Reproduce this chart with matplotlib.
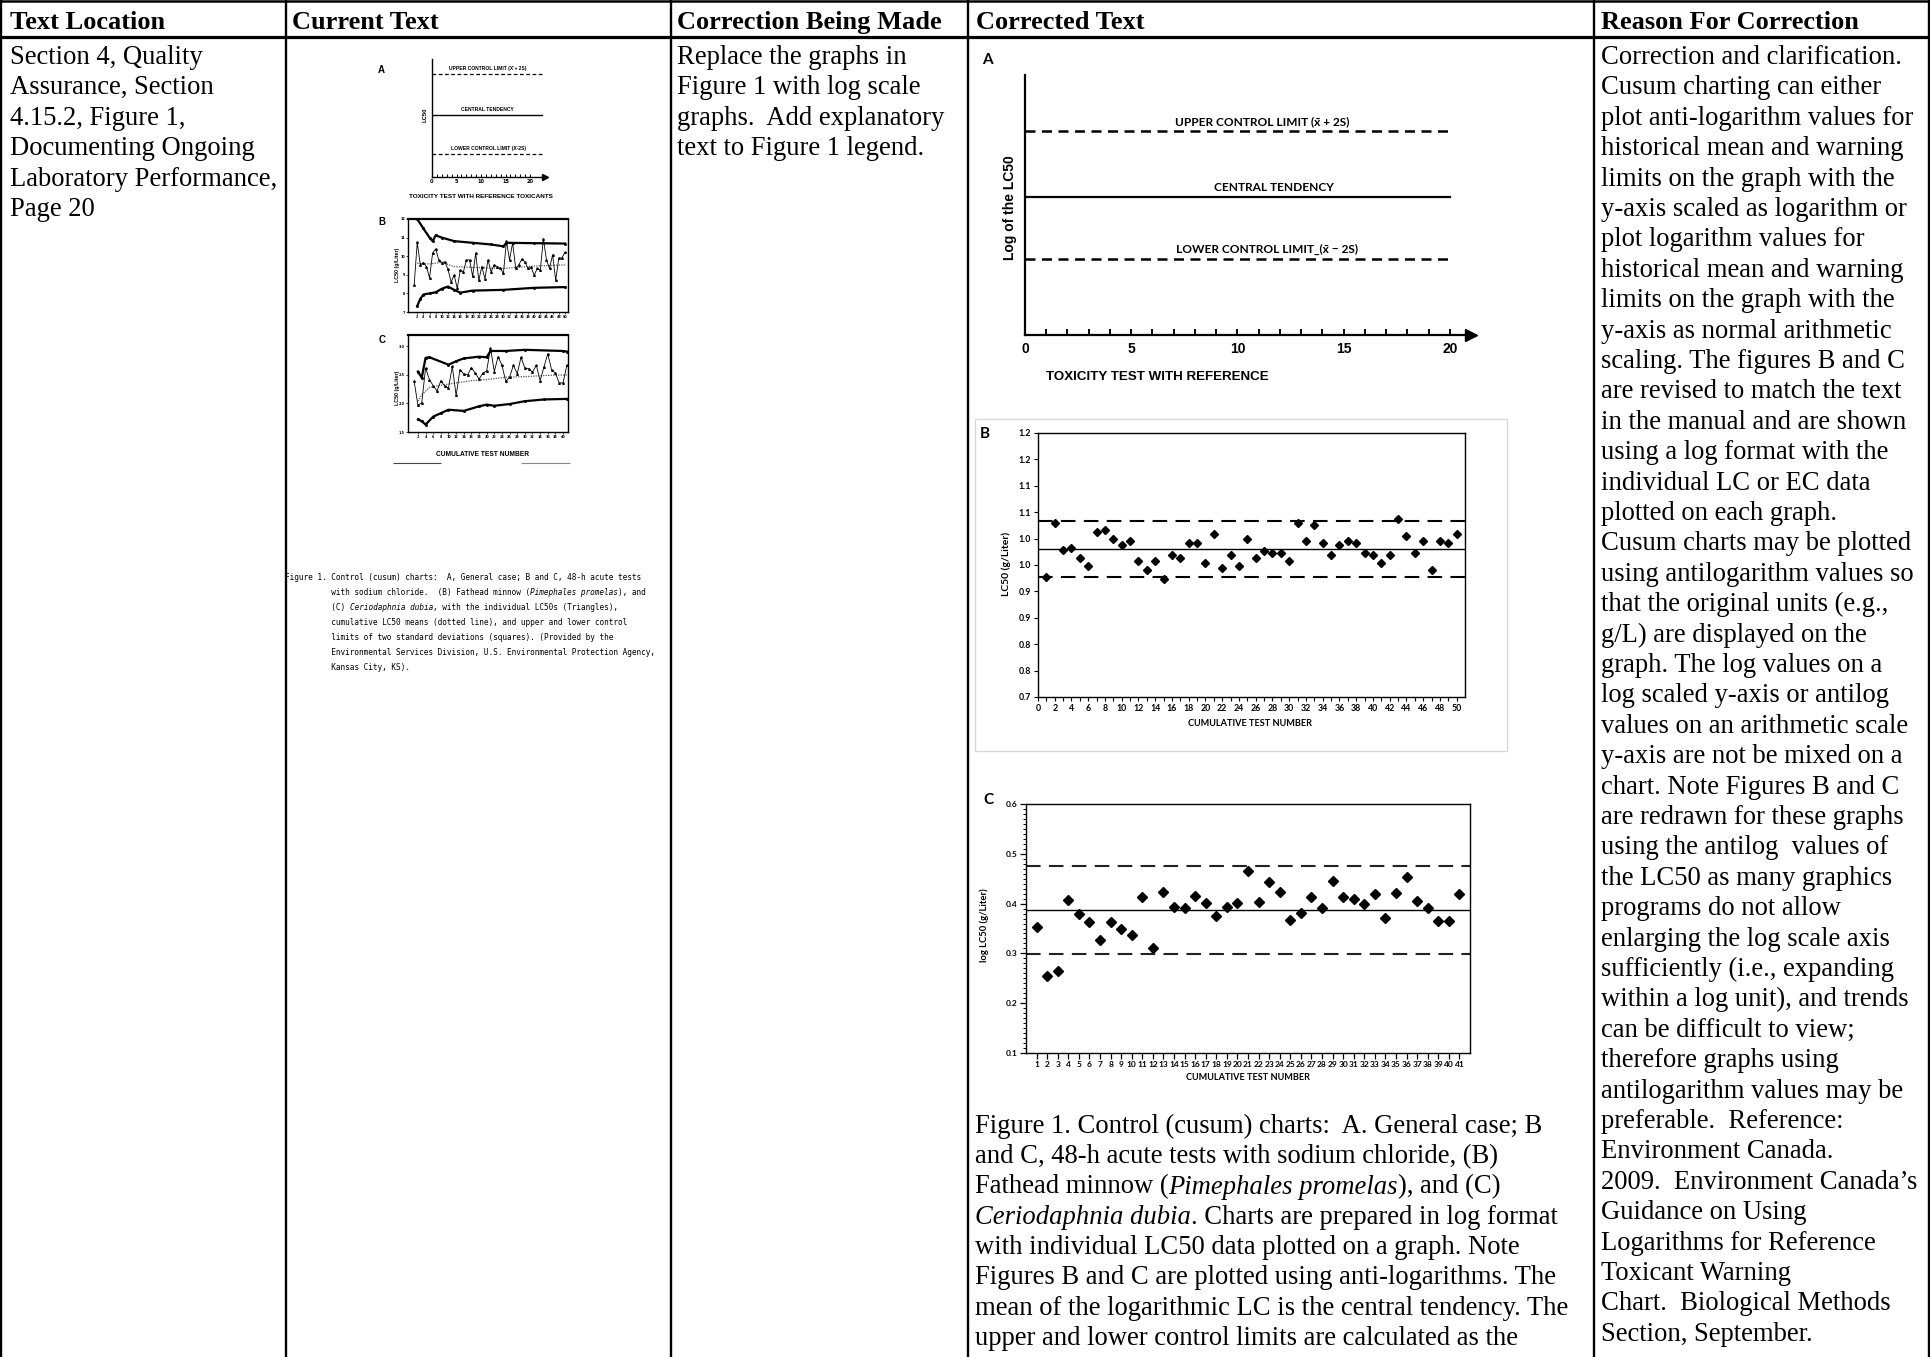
import matplotlib
matplotlib.use("Agg")
import matplotlib.pyplot as plt
import numpy as np
from matplotlib.lines import Line2D
from matplotlib.patches import Rectangle

# ---------------- data ----------------
headers = ["Text Location", "Current Text", "Correction Being Made",
           "Corrected Text", "Reason For Correction"]

location_lines = ["Section 4, Quality", "Assurance, Section", "4.15.2, Figure 1,",
                  "Documenting Ongoing", "Laboratory Performance,", "Page 20"]

correction_lines = ["Replace the graphs in", "Figure 1 with log scale",
                    "graphs.  Add explanatory", "text to Figure 1 legend."]

reason_lines = [
    "Correction and clarification.", "Cusum charting can either",
    "plot anti-logarithm values for", "historical mean and warning",
    "limits on the graph with the", "y-axis scaled as logarithm or",
    "plot logarithm values for", "historical mean and warning",
    "limits on the graph with the", "y-axis as normal arithmetic",
    "scaling. The figures B and C", "are revised to match the text",
    "in the manual and are shown", "using a log format with the",
    "individual LC or EC data", "plotted on each graph.",
    "Cusum charts may be plotted", "using antilogarithm values so",
    "that the original units (e.g.,", "g/L) are displayed on the",
    "graph. The log values on a", "log scaled y-axis or antilog",
    "values on an arithmetic scale", "y-axis are not be mixed on a",
    "chart. Note Figures B and C", "are redrawn for these graphs",
    "using the antilog  values of", "the LC50 as many graphics",
    "programs do not allow", "enlarging the log scale axis",
    "sufficiently (i.e., expanding", "within a log unit), and trends",
    "can be difficult to view;", "therefore graphs using",
    "antilogarithm values may be", "preferable.  Reference:",
    "Environment Canada.", "2009.  Environment Canada\u2019s",
    "Guidance on Using", "Logarithms for Reference", "Toxicant Warning",
    "Chart.  Biological Methods", "Section, September."]

new_caption = [
    [("Figure 1. Control (cusum) charts:  A. General case; B", "normal")],
    [("and C, 48-h acute tests with sodium chloride, (B)", "normal")],
    [("Fathead minnow (", "normal"), ("Pimephales promelas", "italic"), ("), and (C)", "normal")],
    [("Ceriodaphnia dubia", "italic"), (". Charts are prepared in log format", "normal")],
    [("with individual LC50 data plotted on a graph. Note", "normal")],
    [("Figures B and C are plotted using anti-logarithms. The", "normal")],
    [("mean of the logarithmic LC is the central tendency. The", "normal")],
    [("upper and lower control limits are calculated as the", "normal")],
]

old_caption = [
    [("Figure 1. Control (cusum) charts:  A, General case; B and C, 48-h acute tests", "normal")],
    [("          with sodium chloride.  (B) Fathead minnow (", "normal"),
     ("Pimephales promelas", "italic"), ("), and", "normal")],
    [("          (C) ", "normal"), ("Ceriodaphnia dubia", "italic"),
     (", with the individual LC50s (Triangles),", "normal")],
    [("          cumulative LC50 means (dotted line), and upper and lower control", "normal")],
    [("          limits of two standard deviations (squares). (Provided by the", "normal")],
    [("          Environmental Services Division, U.S. Environmental Protection Agency,", "normal")],
    [("          Kansas City, KS).", "normal")],
]

# chart A (schematic levels)
a_levels = {"ucl": 0.785, "ct": 0.531, "lcl": 0.292}
old_a_levels = {"ucl": 0.873, "ct": 0.525, "lcl": 0.195}

# chart B: fathead minnow LC50 (g/L), log-scaled values
b_tests = np.arange(1, 51)
b_lc50 = [0.928, 1.030, 0.978, 0.982, 0.963, 0.949, 1.013, 1.017, 1.000, 0.987,
          0.996, 0.958, 0.940, 0.958, 0.924, 0.968, 0.963, 0.991, 0.991, 0.954,
          1.008, 0.944, 0.968, 0.949, 1.000, 0.963, 0.977, 0.973, 0.973, 0.958,
          1.030, 0.996, 1.026, 0.991, 0.968, 0.987, 0.996, 0.991, 0.973, 0.968,
          0.954, 0.968, 1.038, 1.005, 0.973, 0.996, 0.940, 0.996, 0.991, 1.009]
b_ucl, b_mean, b_lcl = 1.033, 0.980, 0.927
b_yticks = [0.70, 0.75, 0.80, 0.85, 0.90, 0.95, 1.00, 1.05, 1.10, 1.15, 1.20]
b_ylabels = ["0.7", "0.8", "0.8", "0.9", "0.9", "1.0", "1.0", "1.1", "1.1", "1.2", "1.2"]

# chart C: Ceriodaphnia dubia log LC50
c_tests = np.arange(1, 42)
c_lc50 = [0.354, 0.255, 0.264, 0.407, 0.379, 0.363, 0.326, 0.363, 0.348, 0.336,
          0.413, 0.311, 0.423, 0.394, 0.391, 0.415, 0.401, 0.376, 0.394, 0.401,
          0.466, 0.404, 0.444, 0.423, 0.367, 0.381, 0.413, 0.392, 0.446, 0.413,
          0.410, 0.400, 0.419, 0.372, 0.421, 0.453, 0.406, 0.392, 0.365, 0.365,
          0.419]
c_ucl, c_mean, c_lcl = 0.476, 0.387, 0.299

# old scanned charts (current text)
old_b_lc50 = [8.43, 10.75, 9.53, 9.66, 9.44, 8.83, 10.17, 10.39, 9.80, 9.66,
              9.70, 9.29, 8.61, 8.98, 8.28, 9.25, 9.16, 9.80, 9.80, 8.92,
              10.17, 8.70, 9.44, 8.79, 9.80, 9.16, 9.53, 9.44, 9.34, 9.07,
              10.81, 9.80, 10.72, 9.34, 9.53, 9.84, 9.70, 9.34, 9.40, 8.98,
              9.34, 9.25, 10.94, 9.80, 9.34, 10.08, 8.70, 9.90, 9.90, 10.20]
old_b_ucl_x = [2, 4, 6, 7, 8, 10, 14, 20, 26, 30, 31, 40, 50]
old_b_ucl = [12.0, 11.49, 11.0, 10.81, 11.12, 11.0, 10.81, 10.72, 10.63, 10.53, 10.72, 10.70, 10.68]
old_b_lcl_x = [2, 3, 4, 6, 8, 10, 12, 14, 16, 20, 30, 40, 50]
old_b_lcl = [7.33, 7.70, 7.94, 8.00, 8.06, 8.25, 8.37, 8.19, 8.04, 8.15, 8.19, 8.30, 8.34]
old_b_mean_x = [2, 6, 10, 14, 20, 30, 40, 50]
old_b_mean = [9.62, 9.58, 9.67, 9.44, 9.40, 9.34, 9.47, 9.53]

old_c_lc50 = [2.39, 1.97, 2.01, 2.62, 2.42, 2.31, 2.22, 2.40, 2.31, 2.27,
              2.65, 2.14, 2.59, 2.52, 2.50, 2.63, 2.53, 2.43, 2.53, 2.57,
              2.97, 2.56, 2.82, 2.67, 2.39, 2.46, 2.67, 2.52, 2.81, 2.62,
              2.61, 2.55, 2.67, 2.40, 2.64, 2.87, 2.59, 2.53, 2.36, 2.36, 2.67]
old_c_ucl_x = [2, 3, 4, 5, 10, 12, 14, 18, 20, 21, 25, 30, 40, 41]
old_c_ucl = [2.56, 2.45, 2.80, 2.81, 2.68, 2.74, 2.79, 2.82, 2.81, 2.92, 2.92, 2.94, 2.92, 2.91]
old_c_lcl_x = [2, 3, 4, 6, 8, 10, 14, 18, 20, 22, 26, 30, 35, 41]
old_c_lcl = [1.72, 1.69, 1.63, 1.77, 1.83, 1.89, 1.87, 1.95, 1.98, 1.96, 1.99, 2.04, 2.07, 2.08]
old_c_mean_x = [2, 3, 5, 8, 12, 16, 20, 25, 30, 35, 41]
old_c_mean = [2.04, 2.15, 2.28, 2.32, 2.36, 2.40, 2.42, 2.46, 2.47, 2.49, 2.50]

# ---------------- helpers ----------------
W, H = 1931, 1357
fig = plt.figure(figsize=(W / 100, H / 100), dpi=100)
fig.patch.set_facecolor("white")
renderer = fig.canvas.get_renderer()

SERIF = ["Liberation Serif", "DejaVu Serif"]
ARIAL = ["Liberation Sans", "DejaVu Sans"]
CALI = ["Lato", "DejaVu Sans"]
MONO = ["DejaVu Sans Mono"]


def fx(x):
    return x / W


def fy(y):
    return 1 - y / H


def px_axes(l, t, r, b):
    return fig.add_axes([l / W, 1 - b / H, (r - l) / W, (b - t) / H])


def hline(x1, x2, y, lw=1.6, color="black"):
    fig.add_artist(Line2D([fx(x1), fx(x2)], [fy(y), fy(y)], transform=fig.transFigure,
                          color=color, lw=lw, solid_capstyle="butt"))


def vline(x, y1, y2, lw=1.6):
    fig.add_artist(Line2D([fx(x), fx(x)], [fy(y1), fy(y2)], transform=fig.transFigure,
                          color="black", lw=lw, solid_capstyle="butt"))


def text_w(s, **kw):
    def w(txt):
        t = fig.text(0, 0, txt, **kw)
        bb = t.get_window_extent(renderer)
        t.remove()
        return bb.width
    return w("|" + s + "|") - w("||")


def runs(x, y, parts, **kw):
    for s, st in parts:
        fig.text(fx(x), fy(y), s, style=st, va="baseline", ha="left", **kw)
        x += text_w(s, style=st, **kw)


# ---------------- table ----------------
cols = [1, 286, 671, 968, 1594, 1929]
for c in cols:
    vline(c, 0, H, lw=1.7)
hline(0, W, 1, lw=1.8)
hline(0, W, 37, lw=2.3)

head_x = [10, 292, 677, 976, 1601]
for hx, h in zip(head_x, headers):
    fig.text(fx(hx), fy(29), h, family=SERIF, weight="bold", fontsize=19,
             va="baseline", ha="left")

LINE = 30.4
for i, s in enumerate(location_lines):
    fig.text(fx(10), fy(64 + i * LINE), s, family=SERIF, fontsize=19.2, va="baseline")
for i, s in enumerate(correction_lines):
    fig.text(fx(677), fy(64 + i * LINE), s, family=SERIF, fontsize=19.2, va="baseline")
for i, s in enumerate(reason_lines):
    fig.text(fx(1601), fy(64 + i * LINE), s, family=SERIF, fontsize=19.2, va="baseline")
for i, parts in enumerate(new_caption):
    runs(975, 1133 + i * 30.3, parts, family=SERIF, fontsize=19.2)

# ---------------- old (scanned) charts ----------------
oldfont = dict(family=ARIAL, weight="bold")

# old A
ax = px_axes(432, 59, 545, 177)
ax.set_xlim(0, 23.06)
ax.set_ylim(0, 1)
for s in ["top", "right"]:
    ax.spines[s].set_visible(False)
for s in ["left", "bottom"]:
    ax.spines[s].set_linewidth(1.0)
ax.plot(1, 0, ">k", ms=4, transform=ax.transAxes, clip_on=False)
ax.plot([0, 22.4], [old_a_levels["ucl"]] * 2, color="k", lw=0.9, ls=(0, (3, 2)))
ax.plot([0, 22.4], [old_a_levels["ct"]] * 2, color="k", lw=1.0)
ax.plot([0, 22.4], [old_a_levels["lcl"]] * 2, color="k", lw=0.9, ls=(0, (3, 2)))
ax.set_xticks([0, 5, 10, 15, 20])
ax.set_xticks(np.arange(0, 21), minor=True)
ax.tick_params(axis="x", which="both", direction="in", length=2, width=0.7, pad=1.5,
               labelsize=3.6)
ax.set_yticks([])
for lab in ax.get_xticklabels():
    lab.set_fontweight("bold")
ax.annotate("UPPER CONTROL LIMIT (X\u0304 + 2S)", (11.4, old_a_levels["ucl"]), xytext=(0, 2),
            textcoords="offset points", ha="center", va="bottom", fontsize=3.6, **oldfont)
ax.annotate("CENTRAL TENDENCY", (11.2, old_a_levels["ct"]), xytext=(0, 2),
            textcoords="offset points", ha="center", va="bottom", fontsize=3.6, **oldfont)
ax.annotate("LOWER CONTROL LIMIT (X\u0304-2S)", (11.6, old_a_levels["lcl"]), xytext=(0, 2),
            textcoords="offset points", ha="center", va="bottom", fontsize=3.6, **oldfont)
fig.text(fx(381), fy(70), "A", fontsize=7, ha="center", va="center", **oldfont)
fig.text(fx(425), fy(115), "LC50", fontsize=4.2, rotation=90, ha="center", va="center", **oldfont)
fig.text(fx(481), fy(197), "TOXICITY TEST WITH REFERENCE TOXICANTS", fontsize=4.6,
         ha="center", va="center", **oldfont)


def old_panel(box, lc50, ucl_x, ucl, lcl_x, lcl, mean_x, mean, xlim, ylim, xt, yt, ytl):
    ax = px_axes(*box)
    n = len(lc50)
    x = np.arange(1, n + 1)
    ax.plot(ucl_x, ucl, color="k", lw=1.6, marker="s", ms=1.0)
    ax.plot(lcl_x, lcl, color="k", lw=1.6, marker="s", ms=1.0)
    ax.plot(mean_x, mean, color="#555555", lw=0.9, ls=(0, (1, 1)))
    ax.plot(x, lc50, color="k", lw=0.6, marker="^", ms=1.2)
    ax.set_xlim(*xlim)
    ax.set_ylim(*ylim)
    ax.set_xticks(xt)
    ax.set_yticks(yt)
    ax.set_yticklabels(ytl)
    ax.tick_params(which="both", direction="out", length=1.2, width=0.5, pad=1,
                   labelsize=2.4)
    for lab in ax.get_xticklabels() + ax.get_yticklabels():
        lab.set_fontweight("bold")
    for s in ax.spines.values():
        s.set_linewidth(1.0)
    ax.spines["top"].set_linewidth(1.6)
    return ax


old_panel((408, 219, 568, 312), old_b_lc50, old_b_ucl_x, old_b_ucl, old_b_lcl_x, old_b_lcl,
          old_b_mean_x, old_b_mean, (-1, 51), (7, 12), np.arange(2, 51, 2),
          [7, 8, 9, 10, 11, 12], ["7", "8", "9", "10", "11", "12"])
fig.text(fx(382), fy(222), "B", fontsize=7, ha="center", va="center", **oldfont)
fig.text(fx(398), fy(265), "LC50 (g/Liter)", fontsize=3.8, rotation=90,
         ha="center", va="center", **oldfont)

old_panel((408, 335, 568, 432), old_c_lc50, old_c_ucl_x, old_c_ucl, old_c_lcl_x, old_c_lcl,
          old_c_mean_x, old_c_mean, (-0.6, 41.3), (1.5, 3.2), np.arange(2, 41, 2),
          [1.5, 2.0, 2.5, 3.0], ["1.5", "2.0", "2.5", "3.0"])
fig.text(fx(382), fy(340), "C", fontsize=7, ha="center", va="center", **oldfont)
fig.text(fx(398), fy(388), "LC50 (g/Liter)", fontsize=3.8, rotation=90,
         ha="center", va="center", **oldfont)
fig.text(fx(483), fy(455), "CUMULATIVE TEST NUMBER", fontsize=4.8,
         ha="center", va="center", **oldfont)
hline(393, 441, 463, lw=0.8, color="#444444")
hline(521, 570, 463, lw=0.8, color="#888888")

for i, parts in enumerate(old_caption):
    runs(285, 580 + i * 15, parts, family=MONO, fontsize=5.6)

# ---------------- new chart A ----------------
ax = px_axes(1025, 75, 1471, 335)
ax.set_xlim(0, 21)
ax.set_ylim(0, 1)
for s in ["top", "right"]:
    ax.spines[s].set_visible(False)
for s in ["left", "bottom"]:
    ax.spines[s].set_linewidth(1.6)
ax.plot(1, 0, ">k", ms=8, transform=ax.transAxes, clip_on=False)
ax.plot([0, 20], [a_levels["ucl"]] * 2, color="k", lw=1.8, ls=(0, (4, 2.6)))
ax.plot([0, 20], [a_levels["ct"]] * 2, color="k", lw=1.6)
ax.plot([0, 20], [a_levels["lcl"]] * 2, color="k", lw=1.8, ls=(0, (4, 2.6)))
ax.set_xticks([0, 5, 10, 15, 20])
ax.set_xticks(np.arange(0, 21), minor=True)
ax.tick_params(axis="x", which="both", direction="in", length=4, width=1.4, pad=5,
               labelsize=10)
ax.set_yticks([])
for lab in ax.get_xticklabels():
    lab.set_fontweight("bold")
    lab.set_family(ARIAL)
ax.annotate("UPPER CONTROL LIMIT (x\u0304 + 2S)", (11.15, a_levels["ucl"]), xytext=(0, 3),
            textcoords="offset points", ha="center", va="bottom", fontsize=8.6,
            family=CALI, weight="bold")
ax.annotate("CENTRAL TENDENCY", (11.7, a_levels["ct"]), xytext=(0, 3),
            textcoords="offset points", ha="center", va="bottom", fontsize=8.6,
            family=CALI, weight="bold")
ax.annotate("LOWER CONTROL LIMIT_(x\u0304 \u2212 2S)", (11.4, a_levels["lcl"]), xytext=(0, 3),
            textcoords="offset points", ha="center", va="bottom", fontsize=8.6,
            family=CALI, weight="bold")
fig.text(fx(987), fy(60), "A", fontsize=11, family=CALI, weight="bold", ha="center", va="center")
fig.text(fx(1010), fy(208), "Log of the LC50", fontsize=10, family=ARIAL, weight="bold",
         rotation=90, ha="center", va="center")
fig.text(fx(1046), fy(377), "TOXICITY TEST WITH REFERENCE", fontsize=9.6, family=ARIAL,
         weight="bold", ha="left", va="center")

# ---------------- new chart B ----------------
fig.add_artist(Rectangle((fx(975), fy(751)), (1507 - 975) / W, (751 - 419) / H,
                         transform=fig.transFigure, fill=False, edgecolor="#d9d9d9", lw=1))
ax = px_axes(1038, 433, 1465, 697)
ax.plot(b_tests, b_lc50, "D", color="black", ms=4)
ax.axhline(b_ucl, color="black", lw=1.5, ls=(0, (7, 4)))
ax.axhline(b_lcl, color="black", lw=1.5, ls=(0, (7, 4)))
ax.axhline(b_mean, color="black", lw=1.0)
ax.set_xlim(0, 51)
ax.set_ylim(0.7, 1.2)
ax.set_yticks(b_yticks)
ax.set_yticklabels(b_ylabels)
ax.set_xticks(np.arange(0, 51, 2))
ax.set_xticks(np.arange(0, 51), minor=True)
ax.tick_params(which="both", direction="out", length=3, width=0.8, pad=2, labelsize=6.3)
for lab in ax.get_xticklabels() + ax.get_yticklabels():
    lab.set_fontweight("bold")
    lab.set_family(CALI)
for s in ax.spines.values():
    s.set_linewidth(1.0)
fig.text(fx(985), fy(434), "B", fontsize=11, family=CALI, weight="bold", ha="center", va="center")
fig.text(fx(1006), fy(564), "LC50 (g/Liter)", fontsize=7.5, family=CALI, weight="bold",
         rotation=90, ha="center", va="center")
fig.text(fx(1250), fy(723), "CUMULATIVE TEST NUMBER", fontsize=6.6, family=CALI,
         weight="bold", ha="center", va="center")

# ---------------- new chart C ----------------
ax = px_axes(1026, 804, 1470, 1053)
ax.plot(c_tests, c_lc50, "D", color="black", ms=5)
ax.axhline(c_ucl, color="#222222", lw=1.5, ls=(0, (7, 4)))
ax.axhline(c_lcl, color="#222222", lw=1.5, ls=(0, (7, 4)))
ax.axhline(c_mean, color="black", lw=1.0)
ax.set_xlim(0, 42)
ax.set_ylim(0.1, 0.6)
ax.set_yticks([0.1, 0.2, 0.3, 0.4, 0.5, 0.6])
ax.set_yticklabels(["0.1", "0.2", "0.3", "0.4", "0.5", "0.6"])
ax.set_yticks(np.arange(0.1, 0.6, 0.01), minor=True)
ax.set_xticks(c_tests)
ax.tick_params(which="major", direction="out", length=4, width=0.9, pad=2, labelsize=6.0)
ax.tick_params(which="minor", direction="out", length=2.5, width=0.7)
for lab in ax.get_xticklabels() + ax.get_yticklabels():
    lab.set_fontweight("bold")
    lab.set_family(CALI)
for s in ax.spines.values():
    s.set_linewidth(1.0)
fig.text(fx(988), fy(800), "C", fontsize=11, family=CALI, weight="bold", ha="center", va="center")
fig.text(fx(984), fy(925), "log LC50 (g/Liter)", fontsize=6.8, family=CALI, weight="bold",
         rotation=90, ha="center", va="center")
fig.text(fx(1248), fy(1077), "CUMULATIVE TEST NUMBER", fontsize=6.6, family=CALI,
         weight="bold", ha="center", va="center")

fig.savefig("out.png", dpi=100)
